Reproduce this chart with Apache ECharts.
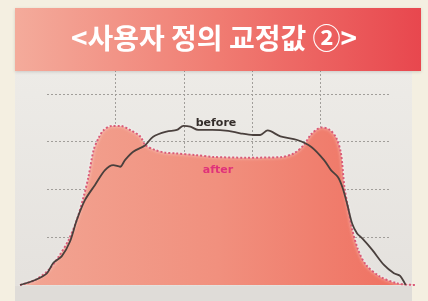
<!DOCTYPE html>
<html>
<head>
<meta charset="utf-8">
<script src="https://cdn.jsdelivr.net/npm/echarts@6/dist/echarts.min.js"></script>
<style>
  html, body { margin: 0; padding: 0; background: #f4efe1; }
  #main { width: 428px; height: 301px; }
</style>
</head>
<body>
<div id="main"></div>
<script>
// before (검은 선) - 원본 분포
let beforeX = [-7.7, -3.3, 0.1, 2.0, 4.4, 6.8, 8.8, 11.2, 14.1, 17.0, 19.4, 21.4, 22.8, 25.2, 28.6, 31.0, 34.9, 37.9, 39.8, 41.8, 44.1, 48.2, 52.8, 56.3, 60.1, 62.1, 64.3, 68.0, 72.9, 77.0, 80.7, 82.7, 84.7, 86.0, 87.4, 88.9, 90.3, 91.8, 94.7, 98.1, 101.0, 102.8, 104.4];
let beforeY = [0, 2.1, 4.9, 9.3, 12.0, 18.1, 27.2, 35.6, 41.9, 48.1, 50.2, 49.5, 52.3, 55.8, 58.4, 62.1, 64.2, 64.9, 66.6, 66.3, 64.9, 64.9, 64.5, 63.5, 62.8, 62.8, 64.7, 62.2, 60.7, 57.8, 52.3, 48.1, 45.2, 41.0, 33.9, 25.5, 21.6, 19.5, 14.7, 8.4, 4.9, 3.8, 0];

// after (분홍 영역) - 교정 후 분포
let afterX = [-7.7, -3.3, 0.6, 3.5, 6.4, 8.8, 10.8, 12.2, 13.7, 15.1, 16.6, 19.0, 21.4, 24.4, 27.3, 28.7, 31.6, 34.5, 37.4, 43.2, 48.5, 57.8, 68.0, 71.9, 74.8, 77.0, 79.9, 82.2, 84.2, 85.6, 86.6, 87.8, 88.9, 90.6, 92.9, 97.0, 102.2, 107.1];
let afterY = [0, 2.1, 6.3, 11.8, 18.8, 27.2, 37.0, 45.3, 56.5, 61.4, 64.8, 66.6, 66.6, 64.8, 62.1, 58.6, 56.5, 55.4, 55.1, 54.4, 53.6, 53.3, 53.5, 55.1, 58.6, 63.2, 65.9, 65.1, 61.7, 55.1, 41.1, 31.4, 23.0, 14.7, 8.4, 3.5, 0.6, 0];

let titleText = '<사용자 정의 교정값 ②>';
let gridColors = ['transparent', '#a19e9a', '#a19e9a', '#a19e9a', '#a19e9a', 'transparent'];

function zip(xs, ys){
    let res = [];
    for(let i = 0; i < xs.length; i++){
        res.push([xs[i], ys[i]]);
    }
    return res;
}

let myChart = echarts.init(document.getElementById('main'));

let option = {
    backgroundColor: '#f4efe1',
    animation: false,
    graphic: [
        {
            type: 'rect', z: -10, silent: true,
            shape: {x: 15, y: 70, width: 397, height: 231},
            style: {
                fill: new echarts.graphic.LinearGradient(0, 0, 0, 1, [
                    {offset: 0, color: '#edebe7'},
                    {offset: 1, color: '#e4e1dd'}
                ])
            }
        },
        {
            type: 'rect', z: -9, silent: true,
            shape: {x: 15, y: 286, width: 397, height: 15},
            style: {fill: '#dfdcd8'}
        },
        {
            type: 'rect', z: 100, silent: true,
            shape: {x: 15, y: 8, width: 406, height: 63},
            style: {
                fill: new echarts.graphic.LinearGradient(0, 0, 1, 0, [
                    {offset: 0, color: '#f4ab9b'},
                    {offset: 0.5, color: '#f07c72'},
                    {offset: 1, color: '#e8474e'}
                ]),
                shadowColor: 'rgba(0,0,0,0.15)',
                shadowBlur: 3,
                shadowOffsetY: 1
            }
        },
        {
            type: 'text', z: 101, silent: true,
            left: 'center', top: 24,
            style: {
                text: titleText,
                fill: '#ffffff',
                font: 'bold 28px "Noto Sans CJK KR", sans-serif'
            }
        },
        {
            type: 'text', z: 50, silent: true,
            x: 216, y: 123,
            style: {
                text: 'before',
                fill: '#332c29',
                font: 'bold 11px "DejaVu Sans", sans-serif',
                align: 'center',
                verticalAlign: 'middle'
            }
        },
        {
            type: 'text', z: 50, silent: true,
            x: 218, y: 170,
            style: {
                text: 'after',
                fill: '#e0327a',
                font: 'bold 11px "DejaVu Sans", sans-serif',
                align: 'center',
                verticalAlign: 'middle'
            }
        }
    ],
    grid: [
        {left: 19, right: 10, top: 70, bottom: 16},
        {left: 47, right: 39, top: 70, bottom: 16}
    ],
    xAxis: [
        {gridIndex: 0, type: 'value', min: -8, max: 108, show: false},
        {
            gridIndex: 1, type: 'value', min: 0, max: 100, interval: 20,
            axisLine: {show: false}, axisTick: {show: false}, axisLabel: {show: false},
            splitLine: {show: true, lineStyle: {color: gridColors, type: [2, 2], width: 1}}
        }
    ],
    yAxis: [
        {gridIndex: 0, type: 'value', min: 0, max: 90, show: false},
        {
            gridIndex: 1, type: 'value', min: 0, max: 90, interval: 20,
            axisLine: {show: false}, axisTick: {show: false}, axisLabel: {show: false},
            splitLine: {show: true, lineStyle: {color: gridColors, type: [2, 2], width: 1}}
        }
    ],
    series: [
        {
            name: 'after',
            type: 'line',
            xAxisIndex: 0, yAxisIndex: 0,
            smooth: 0.3,
            symbol: 'none',
            data: zip(afterX, afterY),
            lineStyle: {
                color: '#d95b78', width: 2, type: [2, 2],
                shadowColor: 'rgba(255,255,255,0.9)', shadowBlur: 3
            },
            areaStyle: {
                opacity: 1,
                color: new echarts.graphic.LinearGradient(0, 0, 1, 0, [
                    {offset: 0, color: '#f2a593'},
                    {offset: 0.5, color: '#f1907e'},
                    {offset: 1, color: '#ef6e5f'}
                ])
            },
            z: 3
        },
        {
            name: 'before',
            type: 'line',
            xAxisIndex: 0, yAxisIndex: 0,
            smooth: 0.3,
            symbol: 'none',
            data: zip(beforeX, beforeY),
            lineStyle: {color: '#4a403d', width: 1.8},
            z: 4
        }
    ]
};

myChart.setOption(option);
</script>
</body>
</html>
